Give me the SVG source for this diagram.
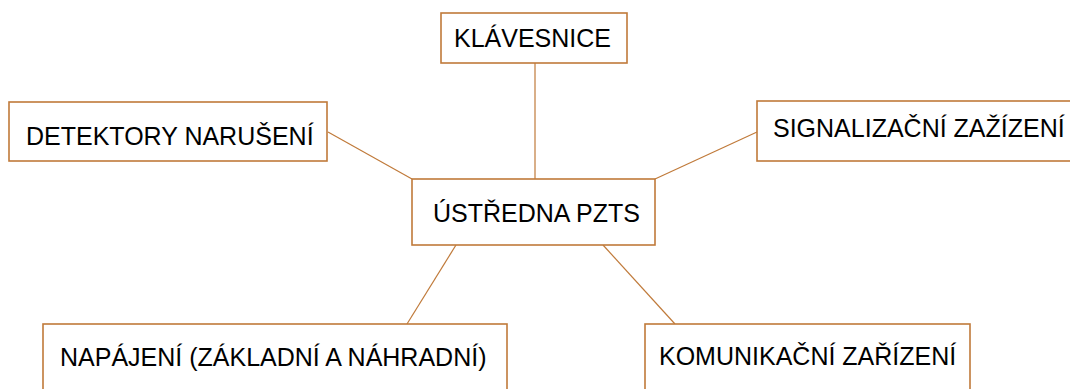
<svg xmlns="http://www.w3.org/2000/svg" width="1070" height="389" viewBox="0 0 1070 389">
<style>
.box{fill:#fff;stroke:#C07A3A;stroke-width:1.6}
.lbl{font-family:"Liberation Sans",Arial,sans-serif;font-size:25px;fill:#000}
.con{stroke:#C07A3A;stroke-width:1.2;fill:none}
</style>
<rect width="1070" height="389" fill="#fff"/>
<g id="connectors">
<line class="con" x1="535" y1="63" x2="535" y2="179"/>
<line class="con" x1="328" y1="132" x2="412" y2="179"/>
<line class="con" x1="757" y1="132" x2="655" y2="179"/>
<line class="con" x1="456" y1="245" x2="407" y2="324"/>
<line class="con" x1="603" y1="245" x2="675" y2="324"/>
</g>
<g id="klavesnice">
<rect class="box" x="441" y="13" width="186" height="50"/>
<text class="lbl" x="454" y="47">KLÁVESNICE</text>
</g>
<g id="detektory">
<rect class="box" x="9" y="102" width="318" height="59"/>
<text class="lbl" x="26" y="145">DETEKTORY NARUŠENÍ</text>
</g>
<g id="signalizace">
<rect class="box" x="757" y="101" width="318" height="60"/>
<text class="lbl" x="773" y="137">SIGNALIZAČNÍ ZAŽÍZENÍ</text>
</g>
<g id="ustredna">
<rect class="box" x="412" y="179" width="243" height="66"/>
<text class="lbl" x="433" y="222">ÚSTŘEDNA PZTS</text>
</g>
<g id="napajeni">
<rect class="box" x="43" y="324" width="464" height="80"/>
<text class="lbl" x="60" y="366">NAPÁJENÍ (ZÁKLADNÍ A NÁHRADNÍ)</text>
</g>
<g id="komunikace">
<rect class="box" x="645" y="324" width="325" height="80"/>
<text class="lbl" x="659" y="365">KOMUNIKAČNÍ ZAŘÍZENÍ</text>
</g>
</svg>
